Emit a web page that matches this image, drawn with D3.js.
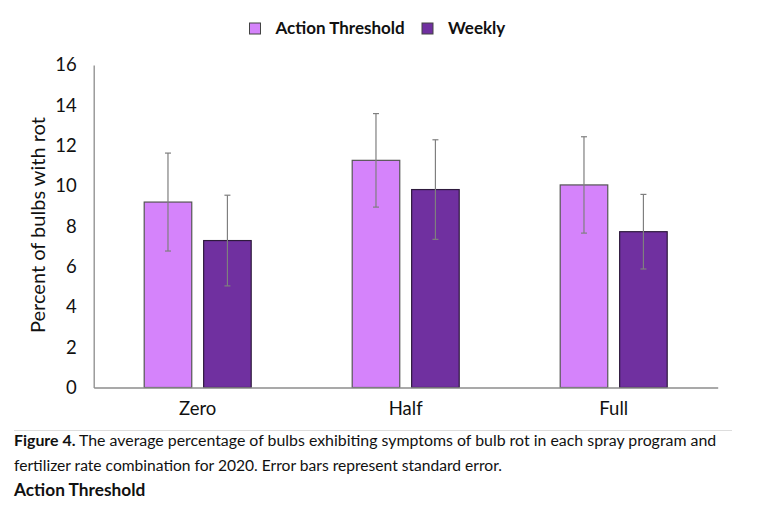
<!DOCTYPE html>
<html>
<head>
<meta charset="utf-8">
<script src="https://cdn.jsdelivr.net/npm/d3@7"></script>
<style>
  body { margin: 0; background: #fff; }
  svg { display: block; font-family: Lato, "Open Sans", sans-serif; }
</style>
</head>
<body>
<svg id="chart" width="777" height="505"></svg>
<script>
const categories = ["Zero", "Half", "Full"];
const series = ["Action Threshold", "Weekly"];
const actionValues = [9.2, 11.27, 10.05];
const actionErrors = [2.43, 2.32, 2.39];
const weeklyValues = [7.29, 9.82, 7.73];
const weeklyErrors = [2.25, 2.47, 1.85];
const yTicks = [0, 2, 4, 6, 8, 10, 12, 14, 16];
const colors = ["#d583fb", "#7030a0"];

const rows = categories.map((c, i) => ({
  category: c,
  values: [
    { key: series[0], value: actionValues[i], err: actionErrors[i] },
    { key: series[1], value: weeklyValues[i], err: weeklyErrors[i] },
  ],
}));

const svg = d3.select("#chart");
const plot = { left: 93.7, right: 717.7, top: 65, bottom: 387.5 };

const x0 = d3.scaleBand().domain(categories).range([plot.left, plot.right]).padding(0);
const x1 = d3.scaleBand().domain(series)
  .range([x0.bandwidth() / 2 - 53.5, x0.bandwidth() / 2 + 53.5])
  .paddingInner(0.2);
const y = d3.scaleLinear().domain([0, 16]).range([plot.bottom, plot.top]);

// y axis
const yAxis = svg.append("g")
  .attr("transform", `translate(${plot.left},0)`)
  .call(d3.axisLeft(y).tickValues(yTicks).tickSize(0).tickPadding(17));
yAxis.select(".domain").attr("stroke", "#8c8c8c").attr("stroke-width", 1.3);
yAxis.selectAll("text")
  .attr("font-size", 18.5).attr("fill", "#111")
  .attr("font-family", "Lato, sans-serif");

// groups of bars
const g = svg.append("g").selectAll("g")
  .data(rows).join("g")
  .attr("transform", (d) => `translate(${x0(d.category)},0)`);

g.selectAll("rect")
  .data((d) => d.values).join("rect")
  .attr("x", (d) => x1(d.key))
  .attr("y", (d) => y(d.value))
  .attr("width", x1.bandwidth())
  .attr("height", (d) => y(0) - y(d.value))
  .attr("fill", (d, i) => colors[i])
  .attr("stroke", (d, i) => (i === 0 ? "#555" : "#2e1a3d"))
  .attr("stroke-width", 1.2);

// error bars
const eb = g.selectAll("g.err")
  .data((d) => d.values).join("g")
  .attr("class", "err")
  .attr("stroke", "#7f7f7f")
  .attr("stroke-width", 1.2);
eb.append("line")
  .attr("x1", (d) => x1(d.key) + x1.bandwidth() / 2)
  .attr("x2", (d) => x1(d.key) + x1.bandwidth() / 2)
  .attr("y1", (d) => y(d.value + d.err))
  .attr("y2", (d) => y(d.value - d.err));
eb.selectAll("line.cap")
  .data((d) => [d, d].map((v, j) => ({ ...v, end: j === 0 ? 1 : -1 })))
  .join("line").attr("class", "cap")
  .attr("x1", (d) => x1(d.key) + x1.bandwidth() / 2 - 3)
  .attr("x2", (d) => x1(d.key) + x1.bandwidth() / 2 + 3)
  .attr("y1", (d) => y(d.value + d.end * d.err))
  .attr("y2", (d) => y(d.value + d.end * d.err));

// x axis
const xAxis = svg.append("g")
  .attr("transform", `translate(0,${plot.bottom})`)
  .call(d3.axisBottom(x0).tickSize(0).tickPadding(14));
xAxis.select(".domain").attr("stroke", "#8c8c8c").attr("stroke-width", 1.3);
xAxis.selectAll("text")
  .attr("font-size", 18.5).attr("fill", "#111")
  .attr("font-family", "Lato, sans-serif");

// y title
svg.append("text")
  .attr("transform", "translate(45,225) rotate(-90)")
  .attr("text-anchor", "middle")
  .attr("font-size", 20)
  .attr("fill", "#111")
  .text("Percent of bulbs with rot");

// legend
const legendX = [249.5, 422];
const leg = svg.append("g").selectAll("g")
  .data(series).join("g")
  .attr("transform", (d, i) => `translate(${legendX[i]},23)`);
leg.append("rect")
  .attr("width", 11).attr("height", 11)
  .attr("fill", (d, i) => colors[i])
  .attr("stroke", "#444").attr("stroke-width", 1);
leg.append("text")
  .attr("x", 26).attr("y", 10.5)
  .attr("font-size", 17).attr("font-weight", "bold")
  .attr("fill", "#111")
  .text((d) => d);

// caption
svg.append("line")
  .attr("x1", 14).attr("x2", 732).attr("y1", 430.5).attr("y2", 430.5)
  .attr("stroke", "#ddd").attr("stroke-width", 1);
const cap = svg.append("text").attr("font-size", 15.9).attr("fill", "#111");
cap.append("tspan").attr("x", 14).attr("y", 446).attr("font-weight", "bold").text("Figure 4.");
cap.append("tspan").text(" The average percentage of bulbs exhibiting symptoms of bulb rot in each spray program and");
svg.append("text").attr("x", 14).attr("y", 471).attr("font-size", 15.6).attr("fill", "#111")
  .text("fertilizer rate combination for 2020. Error bars represent standard error.");
svg.append("text").attr("x", 14).attr("y", 496).attr("font-size", 17.3).attr("font-weight", "bold").attr("fill", "#111")
  .text("Action Threshold");
</script>
</body>
</html>
